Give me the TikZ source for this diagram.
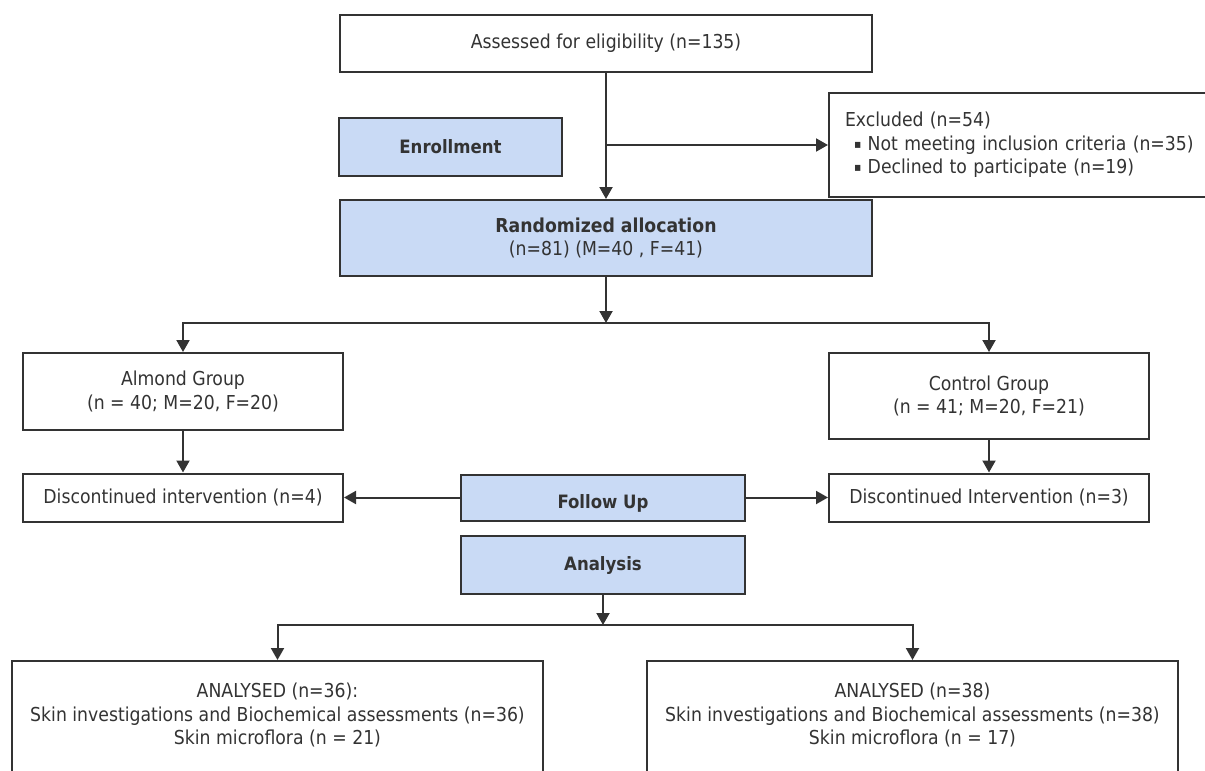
\documentclass[tikz,border=0pt]{standalone}
\usepackage{fontspec}
\setmainfont{DejaVu Sans Condensed}
\usetikzlibrary{arrows.meta}

\definecolor{boxblue}{HTML}{C9DAF5}
\definecolor{ink}{HTML}{333333}

\newcommand{\sqbullet}{\raisebox{1pt}{\fontsize{6pt}{6pt}\selectfont▪}}

\tikzset{
    box/.style={draw=ink, line width=1pt, text=ink, align=center, inner sep=0pt,
        font=\fontsize{9.6pt}{11.75pt}\selectfont},
    phase/.style={box, fill=boxblue, font=\fontsize{9.2pt}{11.75pt}\selectfont\bfseries},
    flow/.style={draw=ink, line width=1pt},
}

\begin{document}
\begin{tikzpicture}[x=0.5pt, y=-0.5pt, >={Triangle[length=6pt, width=6.5pt]}]
    \useasboundingbox (0,0) rectangle (1205,771);

    % Enrollment
    \node[box, minimum width=266pt, minimum height=28.5pt] (assess) at (606,43.5)
        {Assessed for eligibility (n=135)};
    \node[phase, minimum width=111.5pt, minimum height=29pt] (enroll) at (450.5,147) {Enrollment};
    \node[box, anchor=west, align=left, text width=200pt, inner xsep=8pt, minimum height=52pt] (excl) at (828,145)
        {Excluded (n=54)\\\hspace*{4.5pt}\sqbullet\ Not meeting inclusion criteria (n=35)\\\hspace*{4.5pt}\sqbullet\ Declined to participate (n=19)};
    \node[box, fill=boxblue, minimum width=266pt, minimum height=38pt] (rand) at (606,238)
        {\textbf{Randomized allocation}\\(n=81) (M=40 , F=41)};

    % Allocation
    \node[box, minimum width=160pt, minimum height=38.5pt] (almond) at (183,391.5)
        {Almond Group\\(n = 40; M=20, F=20)};
    \node[box, minimum width=160pt, minimum height=43pt] (control) at (989,396)
        {Control Group\\(n = 41; M=20, F=21)};

    % Follow up
    \node[box, minimum width=160pt, minimum height=24pt] (discA) at (183,497.5)
        {Discontinued intervention (n=4)};
    \node[box, minimum width=160pt, minimum height=24pt] (discC) at (989,497.5)
        {Discontinued Intervention (n=3)};
    \node[phase, minimum width=142pt, minimum height=23pt, text height=13pt] (follow) at (603,497.5) {Follow Up};

    % Analysis
    \node[phase, minimum width=142pt, minimum height=29pt] (analysis) at (603,565) {Analysis};
    \node[box, minimum width=265.5pt, minimum height=64.5pt] (anaA) at (277.5,725.5)
        {ANALYSED (n=36):\\Skin investigations and Biochemical assessments (n=36)\\Skin microflora (n = 21)\\~};
    \node[box, minimum width=265.5pt, minimum height=64.5pt] (anaC) at (912.5,725.5)
        {ANALYSED (n=38)\\Skin investigations and Biochemical assessments (n=38)\\Skin microflora (n = 17)\\~};

    % Pfeile
    \coordinate (split) at (606,323);
    \coordinate (join) at (603,625);
    \draw[flow, ->] (assess) -- (rand);
    \draw[flow, ->] (assess.south |- excl.west) -- (excl.west);
    \draw[flow, ->] (rand) -- (split);
    \draw[flow, ->] (split) -| (almond.north);
    \draw[flow, ->] (split) -| (control.north);
    \draw[flow, ->] (almond) -- (discA);
    \draw[flow, ->] (control) -- (discC);
    \draw[flow, ->] (follow.west) -- (discA.east);
    \draw[flow, ->] (follow.east) -- (discC.west);
    \draw[flow, ->] (analysis) -- (join);
    \draw[flow, ->] (join) -| (anaA.north);
    \draw[flow, ->] (join) -| (anaC.north);
\end{tikzpicture}
\end{document}
